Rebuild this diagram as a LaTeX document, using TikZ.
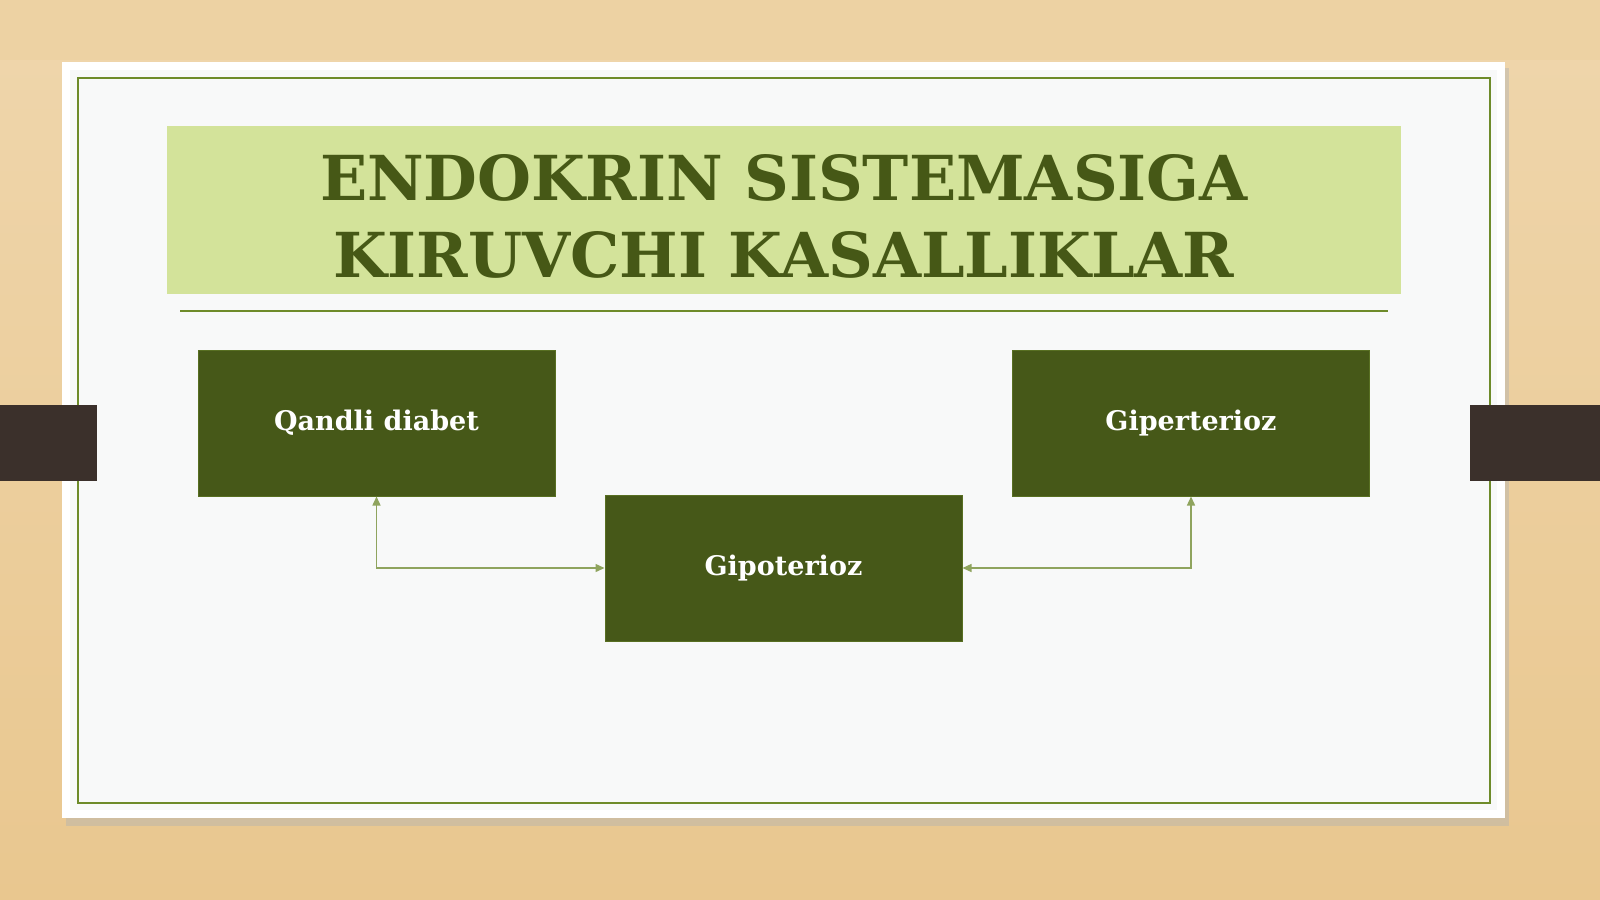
\documentclass[tikz,border=0pt]{standalone}
\usepackage{fontspec}
\setmainfont{DejaVu Serif}
\usetikzlibrary{arrows.meta}
\definecolor{wood}{HTML}{E9C78F}
\definecolor{woodlight}{HTML}{EFD6AC}
\definecolor{olive}{HTML}{6E8B2A}
\definecolor{band}{HTML}{D3E39A}
\definecolor{boxfill}{HTML}{465818}
\definecolor{titletext}{HTML}{465816}
\definecolor{conn}{HTML}{8FA45E}
\definecolor{tab}{HTML}{3B302B}
\definecolor{slide}{HTML}{F8F9F9}
\tikzset{
  diseasebox/.style={draw=olive!80!black, line width=1pt, fill=boxfill, minimum width=357pt, minimum height=146pt, inner sep=0pt, text=white, font=\fontsize{27}{32}\selectfont\bfseries},
  connector/.style={draw=conn, line width=1.4pt, {Triangle[length=9pt,width=8pt]}-{Triangle[length=9pt,width=8pt]}},
}
\begin{document}
\begin{tikzpicture}[x=1pt,y=-1pt]
\useasboundingbox (0,0) rectangle (1600,899);
% wooden background
\shade[top color=woodlight, bottom color=wood] (0,0) rectangle (1600,899);
\fill[woodlight!70!wood] (0,0) rectangle (1600,60);
% slide shadow
\fill[black!30, opacity=0.45] (66,68) rectangle (1509,826);
% slide
\fill[white] (62,62) rectangle (1505,818);
\fill[slide] (70,70) rectangle (1497,810);
\draw[olive, line width=1.6pt] (78,78) rectangle (1490,803);
% side tabs
\fill[tab] (0,405) rectangle (97,481);
\fill[tab] (1470,405) rectangle (1600,481);
% title band
\node[fill=band, minimum width=1234pt, minimum height=168pt, inner sep=0pt] (band) at (784,210) {};
\node[text=titletext, align=center, font=\fontsize{62}{77}\selectfont\bfseries] (title) at (784,216) {ENDOKRIN SISTEMASIGA\\KIRUVCHI KASALLIKLAR};
\draw[olive, line width=1.2pt] (180,311) -- (1388,311);
% boxes
\node[diseasebox] (qd) at (376.5,423) {Qandli diabet};
\node[diseasebox] (gpo) at (783.5,568) {Gipoterioz};
\node[diseasebox] (gpe) at (1191,423) {Giperterioz};
% connectors
\draw[connector] (gpo.west) -| (qd.south);
\draw[connector] (gpo.east) -| (gpe.south);
\end{tikzpicture}
\end{document}
